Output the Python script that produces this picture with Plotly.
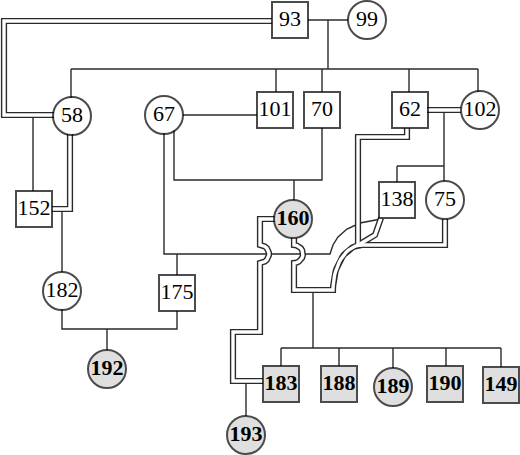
import numpy as np
import plotly.graph_objects as go

# pedigree members
ids = ["93", "99", "58", "67", "101", "70", "62", "102", "152", "138", "75", "160",
       "182", "175", "192", "183", "188", "189", "190", "149", "193"]
sex = ["m", "f", "f", "f", "m", "m", "m", "f", "m", "m", "f", "f",
       "f", "m", "f", "m", "m", "f", "m", "m", "f"]
affected = [0, 0, 0, 0, 0, 0, 0, 0, 0, 0, 0, 1,
            0, 0, 1, 1, 1, 1, 1, 1, 1]
node_x = [290, 367, 72, 164, 275, 322, 410, 480, 34, 397, 445, 293,
          62, 177, 107, 281, 339, 393, 445, 501, 246]
node_y = [20, 20, 116, 115, 110, 110, 110, 110, 209, 200, 200, 219,
          291, 293, 369, 384, 384, 387, 384, 385, 435]


def bump(x0, yc=254, r=9, n=12):
    s = np.linspace(0, np.pi, n)
    return list(zip(x0 + r * np.sin(s), yc - r * np.cos(s)))


def ell_arc(cx, cy, rx, ry, t0, t1, n=20):
    t = np.radians(np.linspace(t0, t1, n))
    return list(zip(cx + rx * np.cos(t), cy - ry * np.sin(t)))


# single lines (polylines)
single_lines = [
    [(308, 20), (348, 20)],
    [(328, 20), (328, 69)],
    [(71, 69), (478, 69)],
    [(71, 69), (71, 98)],
    [(276, 69), (276, 92)],
    [(322, 69), (322, 92)],
    [(409, 69), (409, 92)],
    [(478, 69), (478, 92)],
    [(183, 115), (257, 115)],
    [(174, 130), (174, 180), (322, 180), (322, 128)],
    [(294, 180), (294, 200)],
    [(164, 133), (164, 254), (330, 254), (333, 245), (338, 237), (347, 229),
     (360, 223), (381, 219)],
    [(177, 254), (177, 275)],
    [(33, 116), (33, 191)],
    [(62, 211), (62, 272)],
    [(62, 309), (62, 329), (177, 329), (177, 311)],
    [(107, 329), (107, 350)],
    [(444, 112), (444, 166)],
    [(397, 166), (444, 166)],
    [(397, 166), (397, 182)],
    [(444, 166), (444, 181)],
    [(313, 291), (313, 348)],
    [(281, 348), (501, 348)],
    [(281, 348), (281, 366)],
    [(339, 348), (339, 366)],
    [(393, 348), (393, 368)],
    [(446, 348), (446, 366)],
    [(501, 348), (501, 367)],
    [(246, 381), (246, 416)],
]

# double (consanguinity / marriage) lines
double_lines = [
    [(272, 21), (4, 21), (4, 115), (54, 115)],
    [(70, 134), (70, 209), (52, 209)],
    [(275, 219), (260, 219), (260, 245)] + bump(260) +
    [(260, 263), (260, 332), (233, 332), (233, 381), (263, 381)],
    [(294, 238), (294, 245)] + bump(294) +
    [(294, 263), (294, 290), (333, 290)] + ell_arc(362, 290, 29, 45, 180, 90) +
    [(445, 245), (445, 219)],
    [(407, 128), (407, 137), (358, 137), (358, 245)],
    [(427, 110), (461, 110)],
    [(381, 218), (375, 235), (360, 244)],
]


def flatten(paths):
    xs, ys = [], []
    for p in paths:
        xs += [q[0] for q in p] + [None]
        ys += [q[1] for q in p] + [None]
    return xs, ys


fig = go.Figure()

sx, sy = flatten(single_lines)
fig.add_trace(go.Scatter(x=sx, y=sy, mode="lines",
                         line=dict(color="#2a2a2a", width=1.4), hoverinfo="skip"))

dx, dy = flatten(double_lines)
fig.add_trace(go.Scatter(x=dx, y=dy, mode="lines",
                         line=dict(color="#2a2a2a", width=6.2), hoverinfo="skip"))
fig.add_trace(go.Scatter(x=dx, y=dy, mode="lines",
                         line=dict(color="white", width=3.4), hoverinfo="skip"))

symbols = ["square" if s == "m" else "circle" for s in sex]
sizes = [36 if s == "m" else 38 for s in sex]
fills = ["#d2d2d2" if a else "white" for a in affected]
labels = ["<b>%s</b>" % i if a else i for i, a in zip(ids, affected)]

fig.add_trace(go.Scatter(
    x=node_x, y=node_y, mode="markers+text",
    marker=dict(symbol=symbols, size=sizes, color=fills,
                line=dict(color="black", width=2)),
    text=labels, textposition="middle center",
    textfont=dict(family="Liberation Serif", size=22, color="black"),
    hoverinfo="skip"))

fig.update_layout(
    width=520, height=455,
    margin=dict(l=0, r=0, t=0, b=0),
    paper_bgcolor="white", plot_bgcolor="white",
    showlegend=False,
    xaxis=dict(range=[0, 520], visible=False, fixedrange=True),
    yaxis=dict(range=[455, 0], visible=False, fixedrange=True),
)

# drop the default page margin so the figure sits at the window's corner
fig.write_html("out.html", config={"displayModeBar": False},
               post_script="document.body.style.margin='0';"
                           "document.body.style.overflow='hidden';")
